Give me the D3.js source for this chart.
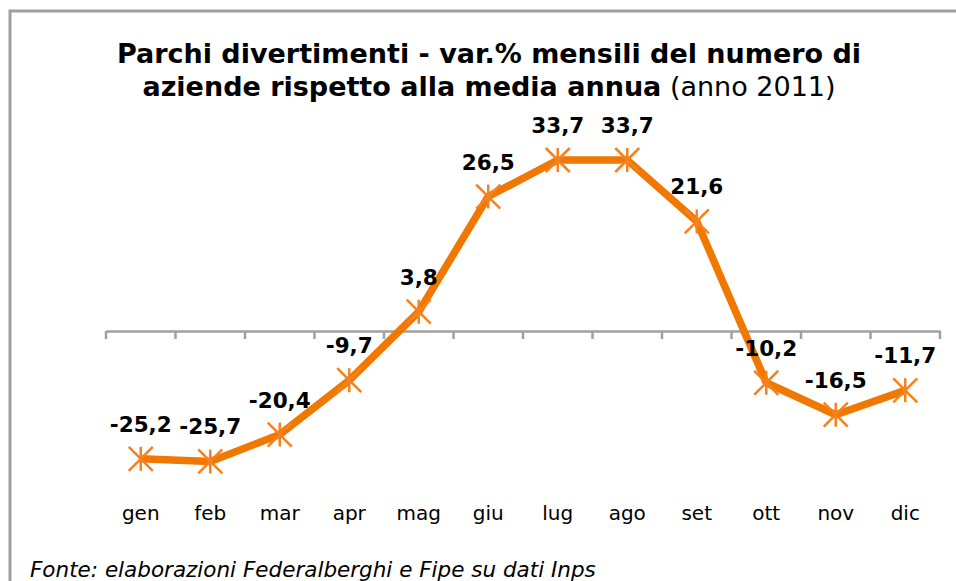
<!DOCTYPE html>
<html>
<head>
<meta charset="utf-8">
<script src="https://cdn.jsdelivr.net/npm/d3@7"></script>
<style>
  html, body { margin: 0; padding: 0; background: #fff; }
  svg { display: block; }
</style>
</head>
<body>
<svg id="chart" width="956" height="581"></svg>
<script>
// Monthly % change vs. annual average, amusement parks, 2011
const months = ["gen", "feb", "mar", "apr", "mag", "giu", "lug", "ago", "set", "ott", "nov", "dic"];
const values = [-25.2, -25.7, -20.4, -9.7, 3.8, 26.5, 33.7, 33.7, 21.6, -10.2, -16.5, -11.7];

const titleLine1 = "Parchi divertimenti - var.% mensili del numero di";
const titleLine2Bold = "aziende rispetto alla media annua";
const titleLine2Normal = " (anno 2011)";
const sourceText = "Fonte: elaborazioni Federalberghi e Fipe su dati Inps";

const svg = d3.select("#chart");
const W = 956, H = 581;
const font = "Verdana, 'DejaVu Sans', sans-serif";
const lineColor = "#f07800";
const markerColor = "#f5821f";

// outer frame
svg.append("path")
  .attr("d", `M10,${H} V11 H${W}`)
  .attr("fill", "none")
  .attr("stroke", "#a0a0a0")
  .attr("stroke-width", 3);

// title
const title = svg.append("g")
  .attr("font-family", font)
  .attr("font-size", 27)
  .attr("fill", "#000")
  .attr("text-anchor", "middle");
title.append("text")
  .attr("x", 489).attr("y", 63)
  .attr("font-weight", "bold")
  .text(titleLine1);
const t2 = title.append("text").attr("x", 489).attr("y", 96);
t2.append("tspan").attr("font-weight", "bold").text(titleLine2Bold);
t2.append("tspan").attr("font-weight", "normal").text(titleLine2Normal);

// scales
const x = d3.scaleBand().domain(months).range([106, 940]);
const y = d3.scaleLinear().domain([0, 33.7]).range([331, 160]);

// category axis at zero
const axis = d3.axisBottom(x).tickSize(0).tickFormat("");
const axisG = svg.append("g").attr("transform", `translate(0,${y(0)})`).call(axis);
axisG.select(".domain").attr("stroke", "#a0a0a0").attr("stroke-width", 2.5);

// tick marks at category boundaries
const bounds = months.map(m => x(m)).concat([x.range()[1]]);
svg.append("g").selectAll("line").data(bounds).join("line")
  .attr("x1", d => d).attr("x2", d => d)
  .attr("y1", y(0)).attr("y2", y(0) + 8)
  .attr("stroke", "#a0a0a0").attr("stroke-width", 2.5);

// month labels along the bottom
svg.append("g").selectAll("text").data(months).join("text")
  .attr("x", d => x(d) + x.bandwidth() / 2)
  .attr("y", 520)
  .attr("text-anchor", "middle")
  .attr("font-family", font)
  .attr("font-size", 20)
  .attr("fill", "#000")
  .text(d => d);

const cx = (d, i) => x(months[i]) + x.bandwidth() / 2;

// series line
const line = d3.line().x((d, i) => cx(d, i)).y(d => y(d));
svg.append("path")
  .datum(values)
  .attr("d", line)
  .attr("fill", "none")
  .attr("stroke", lineColor)
  .attr("stroke-width", 7.5)
  .attr("stroke-linejoin", "round");

// star markers
const r = 12;
const star = `M${-r},${-r}L${r},${r}M${-r},${r}L${r},${-r}M0,${-r}L0,${r}`;
svg.append("g").selectAll("path").data(values).join("path")
  .attr("transform", (d, i) => `translate(${cx(d, i)},${y(d)})`)
  .attr("d", star)
  .attr("fill", "none")
  .attr("stroke", markerColor)
  .attr("stroke-width", 2.5);

// value labels
const fmt = v => String(v).replace(".", ",");
svg.append("g").selectAll("text").data(values).join("text")
  .attr("x", (d, i) => cx(d, i))
  .attr("y", d => y(d) - 27)
  .attr("text-anchor", "middle")
  .attr("font-family", font)
  .attr("font-size", 21.5)
  .attr("font-weight", "bold")
  .attr("fill", "#000")
  .text(d => fmt(d));

// source note
svg.append("text")
  .attr("x", 30).attr("y", 577)
  .attr("font-family", font)
  .attr("font-size", 21.5)
  .attr("font-style", "italic")
  .attr("fill", "#000")
  .text(sourceText);
</script>
</body>
</html>
